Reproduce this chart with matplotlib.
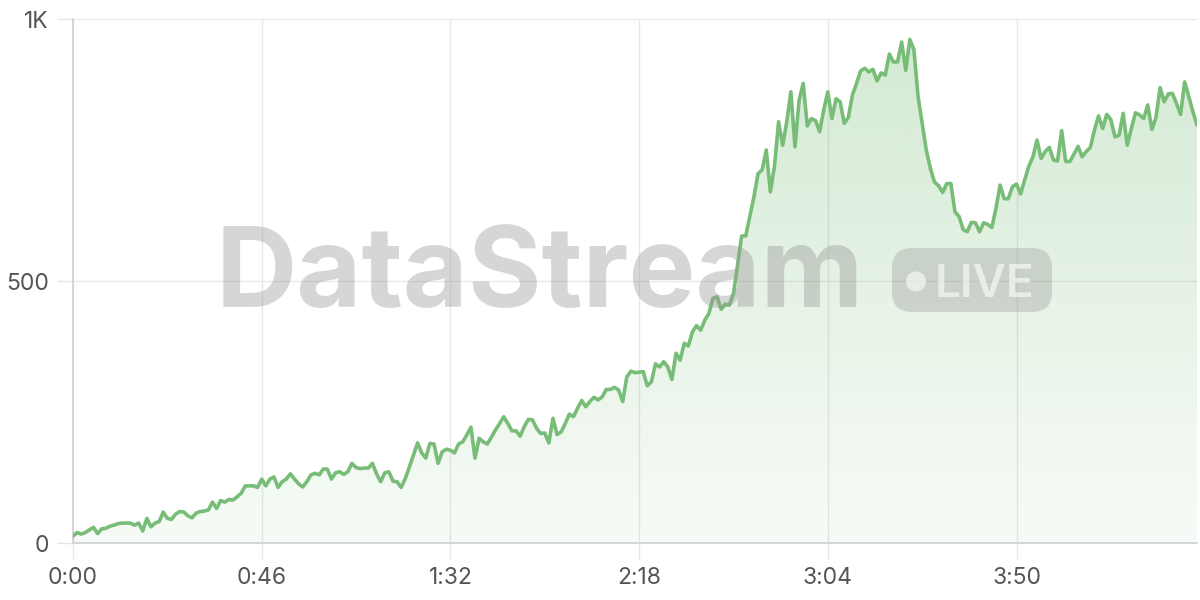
import numpy as np
import matplotlib
matplotlib.use('Agg')
import matplotlib.pyplot as plt
from matplotlib.colors import to_rgb
from matplotlib.patches import FancyBboxPatch, Circle

# Data: one reading per second
values = [
    13, 20, 17, 20, 25, 30, 18, 27, 28, 32,
    34, 37, 38, 38, 38, 34, 38, 23, 47, 31,
    38, 41, 59, 47, 45, 55, 60, 59, 52, 48,
    57, 60, 61, 63, 78, 66, 81, 78, 83, 82,
    88, 95, 109, 109, 109, 106, 122, 109, 122, 126,
    106, 117, 122, 132, 122, 113, 107, 117, 130, 133,
    130, 141, 141, 122, 134, 136, 131, 136, 152, 144,
    142, 143, 143, 152, 132, 117, 134, 136, 118, 117,
    106, 123, 145, 168, 191, 172, 162, 190, 189, 152,
    174, 179, 177, 172, 189, 193, 206, 221, 162, 200,
    193, 189, 202, 216, 228, 241, 228, 214, 214, 204,
    222, 236, 235, 219, 209, 210, 191, 238, 207, 212,
    228, 246, 241, 257, 272, 260, 270, 278, 273, 279,
    293, 293, 297, 292, 270, 317, 328, 325, 326, 327,
    300, 308, 342, 336, 346, 336, 312, 362, 349, 381,
    376, 403, 415, 406, 425, 438, 467, 470, 446, 456,
    454, 476, 530, 586, 586, 623, 661, 705, 712, 750,
    670, 719, 804, 759, 804, 861, 756, 845, 877, 796,
    810, 806, 785, 826, 861, 810, 848, 842, 801, 812,
    855, 877, 901, 906, 899, 904, 882, 897, 893, 933,
    918, 918, 956, 902, 961, 941, 852, 801, 750, 715,
    689, 682, 669, 686, 686, 632, 623, 598, 594, 612,
    611, 594, 611, 608, 602, 639, 683, 657, 657, 680,
    685, 666, 693, 719, 737, 769, 734, 747, 755, 731,
    729, 787, 728, 728, 742, 757, 737, 747, 755, 788,
    815, 791, 818, 808, 775, 778, 820, 759, 791, 821,
    817, 810, 836, 789, 812, 869, 842, 857, 858, 839,
    818, 880, 852, 823, 798,
]
seconds = list(range(len(values)))

x_ticks = [0, 46, 92, 138, 184, 230]
x_tick_labels = ['0:00', '0:46', '1:32', '2:18', '3:04', '3:50']
y_ticks = [0, 500, 1000]
y_tick_labels = ['0', '500', '1K']

line_color = '#78bd77'

plt.rcParams['font.family'] = ['Inter', 'DejaVu Sans']

fig = plt.figure(figsize=(12, 6), dpi=100)
ax = fig.add_axes([73 / 1200, 57 / 600, 1124 / 1200, 524 / 600])

ax.set_xlim(0, seconds[-1])
ax.set_ylim(0, 1000)

# gradient area under the line
area = ax.fill_between(seconds, values, 0, facecolor='none', edgecolor='none')
grad = np.linspace(0, 1, 256).reshape(-1, 1)
rgba = np.zeros((256, 1, 4))
rgba[..., :3] = to_rgb(line_color)
rgba[..., 3] = 0.06 + 0.27 * grad
im = ax.imshow(rgba, extent=[0, seconds[-1], 0, 1000], origin='lower',
               aspect='auto', zorder=1, interpolation='bilinear')
im.set_clip_path(area.get_paths()[0], transform=ax.transData)

ax.plot(seconds, values, color=line_color, lw=2.6, zorder=3,
        solid_joinstyle='round', solid_capstyle='round')

ax.set_xticks(x_ticks)
ax.set_xticklabels(x_tick_labels)
ax.set_yticks(y_ticks)
ax.set_yticklabels(y_tick_labels)

ax.grid(True, color='#e8e8e8', lw=1, zorder=0)
ax.set_axisbelow(True)
for side in ['top', 'right']:
    ax.spines[side].set_visible(False)
for side in ['left', 'bottom']:
    ax.spines[side].set_color('#d2d2d2')
    ax.spines[side].set_linewidth(1.3)
ax.tick_params(length=11.5, width=1, color='#e6e6e6', pad=6,
               labelsize=16.5, labelcolor='#555555')

# watermark overlay in pixel coordinates
ov = fig.add_axes([0, 0, 1, 1])
ov.set_xlim(0, 1200)
ov.set_ylim(600, 0)
ov.axis('off')
ov.text(540, 307, 'DataStream', ha='center', va='baseline', fontsize=81,
        fontweight='bold', color='#999999', alpha=0.4)
ov.add_patch(FancyBboxPatch((892, 248), 160, 64,
                            boxstyle='round,pad=0,rounding_size=20',
                            facecolor='#999999', edgecolor='none', alpha=0.35))
ov.add_patch(Circle((916, 281.5), 10, facecolor='white', edgecolor='none', alpha=0.6))
ov.text(935, 297, 'LIVE', ha='left', va='baseline', fontsize=33,
        fontweight='semibold', color='white', alpha=0.6)

fig.savefig('out.png', dpi=100)
